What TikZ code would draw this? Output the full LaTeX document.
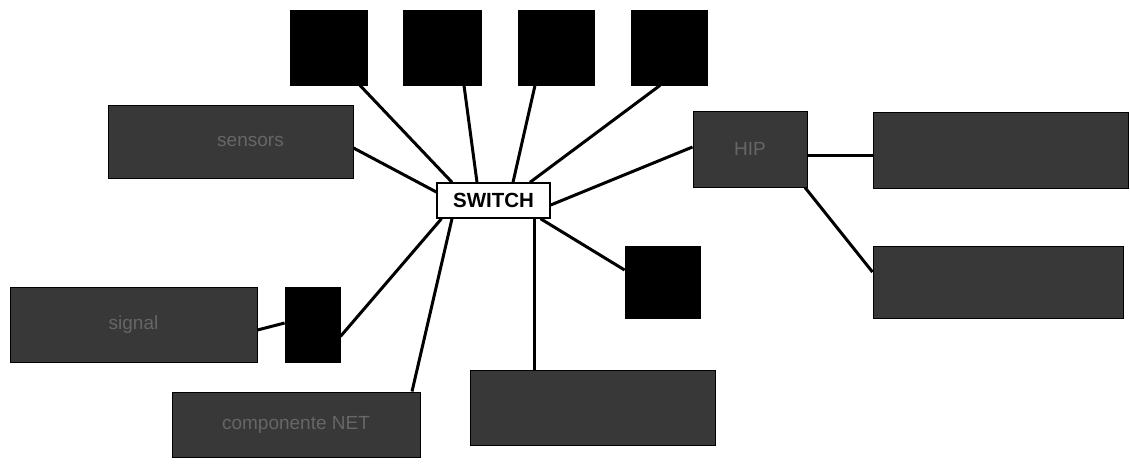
\documentclass[tikz,border=0pt]{standalone}
\usepackage{fontspec}
\setmainfont{Liberation Sans}
\usetikzlibrary{calc}
\begin{document}
\begin{tikzpicture}[x=1pt,y=-1pt,
  blk/.style={draw=black,fill=black,inner sep=0pt,line width=0.8pt},
  gbox/.style={draw=black,fill=black!78,inner sep=0pt,line width=1pt,
    text=black!60,font=\fontsize{19}{21}\selectfont},
  swbox/.style={draw=black,fill=white,inner sep=0pt,line width=1.4pt,
    minimum width=113pt,minimum height=35pt,font=\fontsize{20.5}{22}\selectfont},
  link/.style={line width=3pt,black}]
\useasboundingbox (0,0) rectangle (1130,466);
% top black squares
\node[blk,minimum width=77pt,minimum height=75pt] (t1) at (328.5,47.5) {};
\node[blk,minimum width=78pt,minimum height=75pt] (t2) at (442,47.5) {};
\node[blk,minimum width=76pt,minimum height=75pt] (t3) at (556,47.5) {};
\node[blk,minimum width=76pt,minimum height=75pt] (t4) at (669,47.5) {};
% switch
\node[swbox] (sw) at (493.5,200.5) {\textbf{SWITCH}};
% gray boxes
\node[gbox,minimum width=245pt,minimum height=73pt] (sens) at (230.5,141.5) {\hspace*{40pt}sensors};
\node[gbox,minimum width=114pt,minimum height=76pt] (hip) at (750,149) {HIP};
\node[gbox,minimum width=255pt,minimum height=76pt] (r1) at (1000.5,150) {};
\node[gbox,minimum width=250pt,minimum height=72pt] (r2) at (998,282) {};
\node[gbox,minimum width=247pt,minimum height=75pt] (lb) at (133.5,324.5) {signal};
\node[gbox,minimum width=248pt,minimum height=65pt] (bl) at (296,424.5) {componente NET};
\node[gbox,minimum width=245pt,minimum height=75pt] (bm) at (592.5,407.5) {};
% small black squares
\node[blk,minimum width=75pt,minimum height=72pt] (sq) at (662.5,282) {};
\node[blk,minimum width=55pt,minimum height=75pt] (sl) at (312.5,324.5) {};
% connectors
\draw[link] ($(t1.south)+(31.5,0)$) -- ($(sw.north)+(-41.5,0)$);
\draw[link] ($(t2.south)+(22,0)$) -- ($(sw.north)+(-16.5,0)$);
\draw[link] ($(t3.south)+(-21,0)$) -- ($(sw.north)+(19.5,0)$);
\draw[link] ($(t4.south)+(-9,0)$) -- ($(sw.north)+(36.5,0)$);
\draw[link] ($(sens.east)+(0,6.5)$) -- ($(sw.west)+(0,-8.5)$);
\draw[link] ($(sw.east)+(0,4.5)$) -- ($(hip.west)+(0,-2)$);
\draw[link] ($(hip.east)+(0,6)$) -- ($(r1.west)+(0,5)$);
\draw[link] ($(hip.south)+(55,0)$) -- ($(r2.west)+(0,-10)$);
\draw[link] ($(sw.south)+(47,0)$) -- ($(sq.west)+(0,-12)$);
\draw[link] ($(sw.south)+(41,0)$) -- ($(bm.north)+(-58,0)$);
\draw[link] ($(sw.south)+(-52,0)$) -- ($(sl.east)+(0,12)$);
\draw[link] ($(sw.south)+(-41.5,0)$) -- ($(bl.north)+(116,0)$);
\draw[link] ($(lb.east)+(0,5.5)$) -- ($(sl.west)+(0,-1.5)$);
\end{tikzpicture}
\end{document}
